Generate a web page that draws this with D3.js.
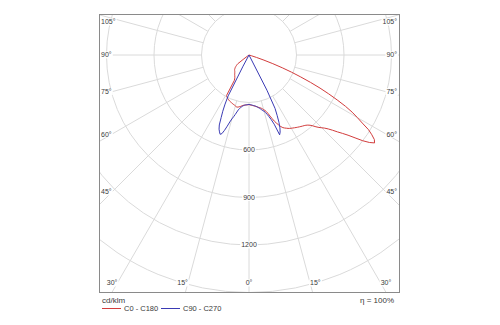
<!DOCTYPE html>
<html>
<head>
<meta charset="utf-8">
<script src="https://cdn.jsdelivr.net/npm/d3@7/dist/d3.min.js"></script>
<style>
  html, body { margin: 0; padding: 0; background: #fff; }
  svg { display: block; }
</style>
</head>
<body>
<svg id="chart" width="500" height="325"></svg>
<script>
// Vertical angle grid (gamma, degrees from nadir), shared by every C-plane
const gammaDeg = d3.range(0, 76);

// Luminous intensity, cd/klm, one value per gamma step (each plane ends at 0)
const c0 = [313,315,317,318,320,322,324,326,329,332,
            335,338,341,345,350,357,364,373,388,408,
            428,448,465,480,495,506,513,519,525,530,
            534,538,542,546,550,554,558,562,566,571,
            578,588,602,620,636,650,665,685,710,740,
            770,805,850,900,940,968,955,925,890,835,
            790,745,690,625,560,495,425,355,290,225,
            160,100,50,15,0];
const c180 = [313,314,315,316,317,318,319,321,324,328,
              331,334,336,338,336,333,330,328,326,324,
              321,319,317,315,312,309,306,302,298,292,
              185,176,169,165,160,157,154,150,146,143,
              140,137,135,133,131,128,124,120,116,110,
              104,98,90,40,10,0];
const c90 = [312,313,314,316,318,320,322,325,328,332,
             337,342,348,355,362,368,378,392,410,432,
             465,540,525,500,465,420,375,250,0];
const c270 = [312,313,314,315,316,318,321,325,330,336,
              343,353,368,385,402,418,440,470,500,525,
              533,520,505,480,432,392,345,290,80,0];

// Grid definition
const ringValues = [300, 600, 900, 1200, 1500, 1800];
const ringLabels = [600, 900, 1200];
const spokeAngles = d3.range(0, 181, 15);
const bottomAngleLabels = [0, 15, 30];
const sideAngleLabels = [45, 60, 75, 90, 105];

const seriesNames = ["C0 - C180", "C90 - C270"];
const seriesColors = ["#d23c3c", "#3a3ab4"];
const unitLabel = "cd/klm";
const efficiencyLabel = "η = 100%";

// Layout
const frame = { x: 99, y: 14, w: 300, h: 278 };
const cx = 249, cy = 55;
const r = d3.scaleLinear().domain([0, 300]).range([0, 47.5]);

const svg = d3.select("#chart");
const font = "'Liberation Sans', Arial, sans-serif";
const gridColor = "#dadada";
const textColor = "#3a3a3a";

svg.append("defs").append("clipPath").attr("id", "plotClip")
  .append("rect")
  .attr("x", frame.x + 0.5).attr("y", frame.y + 0.5)
  .attr("width", frame.w).attr("height", frame.h);

const plot = svg.append("g").attr("clip-path", "url(#plotClip)");
const grid = plot.append("g").attr("transform", `translate(${cx},${cy})`);

// Rings
grid.selectAll("circle.ring").data(ringValues).join("circle")
  .attr("class", "ring")
  .attr("r", d => r(d))
  .attr("fill", "none")
  .attr("stroke", gridColor)
  .attr("stroke-width", 1);

// Spokes every 15°, measured from nadir, mirrored on both sides
const rad = d => d * Math.PI / 180;
const spokes = [];
spokeAngles.forEach(a => {
  spokes.push({ a, s: 1 });
  if (a !== 0 && a !== 180) spokes.push({ a, s: -1 });
});
grid.selectAll("line.spoke").data(spokes).join("line")
  .attr("class", "spoke")
  .attr("x1", d => d.s * r(300) * Math.sin(rad(d.a)))
  .attr("y1", d => r(300) * Math.cos(rad(d.a)))
  .attr("x2", d => d.s * 600 * Math.sin(rad(d.a)))
  .attr("y2", d => 600 * Math.cos(rad(d.a)))
  .attr("stroke", gridColor)
  .attr("stroke-width", 1);

// Labels with a white backing that interrupts the grid underneath
const labelLayer = plot.append("g");
function addLabel(x, y, text, anchor, size) {
  const g = labelLayer.append("g");
  const t = g.append("text")
    .attr("x", x).attr("y", y)
    .attr("text-anchor", anchor)
    .attr("dy", "0.35em")
    .attr("font-family", font)
    .attr("font-size", size)
    .attr("fill", textColor)
    .text(text);
  const b = t.node().getBBox();
  g.insert("rect", "text")
    .attr("x", b.x - 1).attr("y", b.y)
    .attr("width", b.width + 2).attr("height", b.height)
    .attr("fill", "#fff");
}

ringLabels.forEach(v => addLabel(cx, cy + r(v), String(v), "middle", 7));

const bottomY = 283;
bottomAngleLabels.forEach(a => {
  const dx = (bottomY - cy) * Math.tan(rad(a));
  if (a === 0) {
    addLabel(cx, bottomY, a + "°", "middle", 7);
  } else {
    addLabel(cx - dx, bottomY, a + "°", "end", 7);
    addLabel(cx + dx, bottomY, a + "°", "start", 7);
  }
});

const sideReach = 137;
sideAngleLabels.forEach(a => {
  const y = Math.max(frame.y + 8, cy + sideReach / Math.tan(rad(a)));
  const yy = a === 90 ? cy : y;
  addLabel(frame.x + 2, yy, a + "°", "start", 7);
  addLabel(frame.x + frame.w - 2, yy, a + "°", "end", 7);
});

// Intensity curves: positive side plane to the right, opposite plane to the left
const radial = d3.lineRadial()
  .angle(d => d[0])
  .radius(d => r(d[1]))
  .curve(d3.curveLinear);

function planePoints(rightVals, leftVals) {
  const left = leftVals.map((v, i) => [Math.PI + rad(gammaDeg[i]), v]).reverse();
  const right = rightVals.map((v, i) => [Math.PI - rad(gammaDeg[i]), v]);
  return left.concat(right.slice(1));
}

const curves = plot.append("g").attr("transform", `translate(${cx},${cy})`);
[[c0, c180], [c90, c270]].forEach((pair, i) => {
  curves.append("path")
    .attr("d", radial(planePoints(pair[0], pair[1])))
    .attr("fill", "none")
    .attr("stroke", seriesColors[i])
    .attr("stroke-width", 1)
    .attr("stroke-linejoin", "round");
});

// Frame
svg.append("rect")
  .attr("x", frame.x + 0.5).attr("y", frame.y + 0.5)
  .attr("width", frame.w).attr("height", frame.h)
  .attr("fill", "none")
  .attr("stroke", "#8a8a8a")
  .attr("stroke-width", 1);

// Unit, legend and efficiency
svg.append("text")
  .attr("x", 102).attr("y", 300).attr("dy", "0.35em")
  .attr("font-family", font).attr("font-size", 8).attr("fill", textColor)
  .text(unitLabel);

const legendX = [102, 161];
const legend = svg.append("g");
seriesNames.forEach((name, i) => {
  const x = legendX[i];
  legend.append("line")
    .attr("x1", x).attr("x2", x + 19)
    .attr("y1", 308.5).attr("y2", 308.5)
    .attr("stroke", seriesColors[i]).attr("stroke-width", 1);
  legend.append("text")
    .attr("x", x + 22).attr("y", 308.5).attr("dy", "0.35em")
    .attr("font-family", font).attr("font-size", 7.5).attr("fill", textColor)
    .text(name);
});

svg.append("text")
  .attr("x", 394).attr("y", 300).attr("dy", "0.35em")
  .attr("text-anchor", "end")
  .attr("font-family", font).attr("font-size", 8).attr("fill", textColor)
  .text(efficiencyLabel);
</script>
</body>
</html>
